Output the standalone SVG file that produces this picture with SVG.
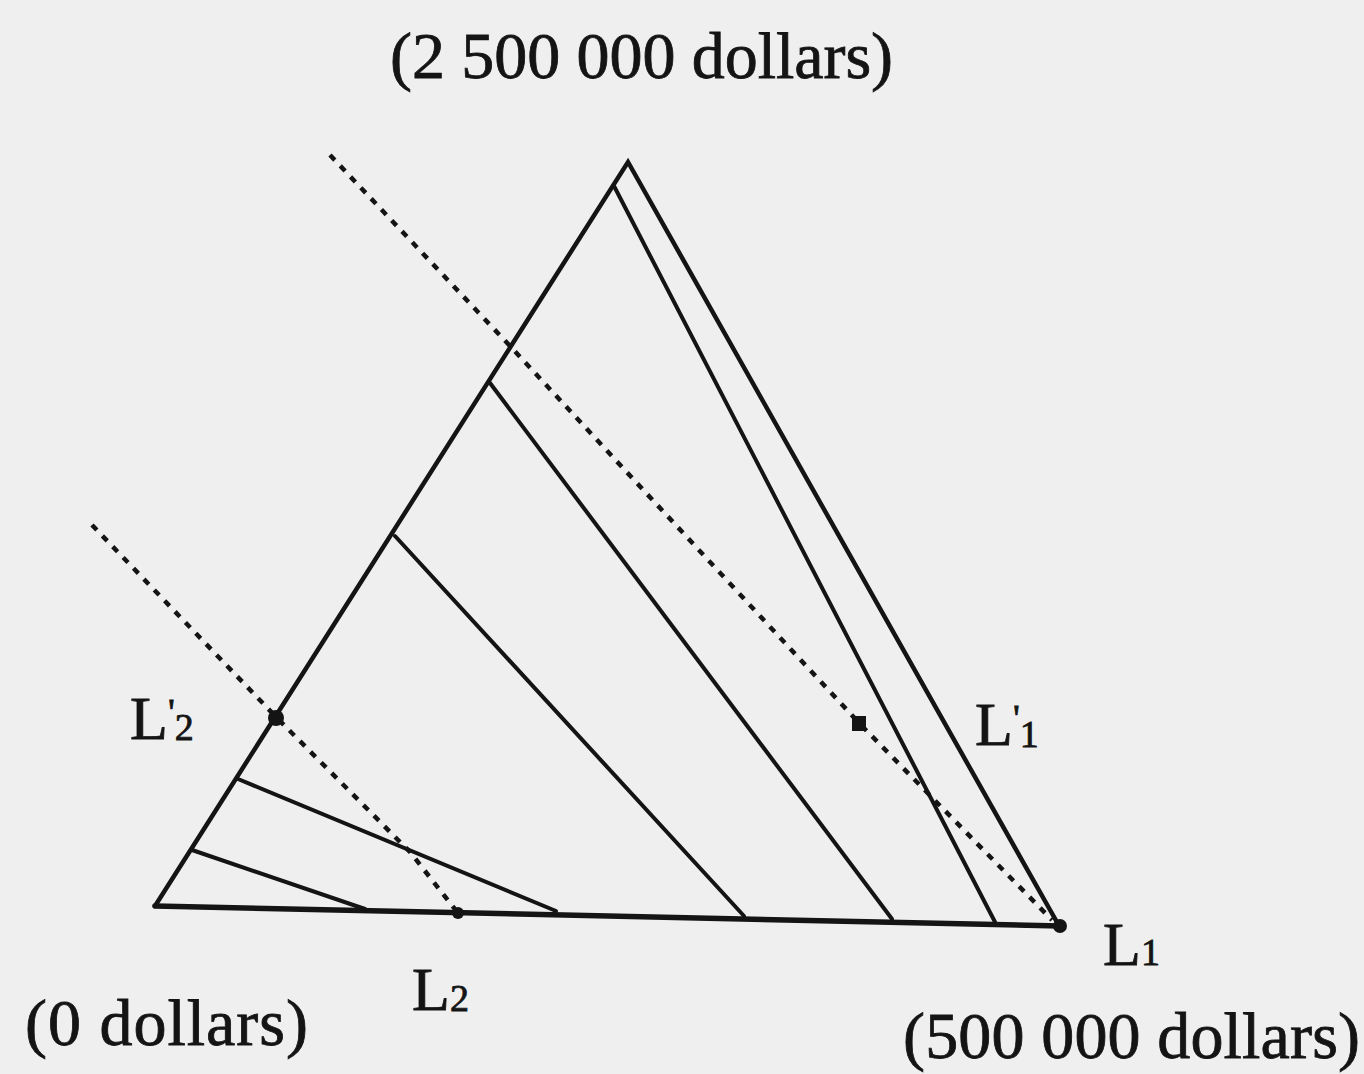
<svg xmlns="http://www.w3.org/2000/svg" width="1364" height="1074" viewBox="0 0 1364 1074">
<style>
.edge{fill:none;stroke:#141414;stroke-width:4.5;stroke-linejoin:miter;stroke-linecap:round}
.ind{fill:none;stroke:#141414;stroke-width:4;stroke-linecap:round}
.dot{fill:none;stroke:#141414;stroke-width:4.5;stroke-dasharray:7 8}
.pt{fill:#141414}
.lbl{font-family:"Liberation Serif","Times New Roman",serif;fill:#141414;stroke:#141414;stroke-width:0.8}
.big{font-size:66px}
.L{font-size:62px}
.sub{font-size:38px}
</style>
<rect width="1364" height="1074" fill="#efefef"/>
<g id="triangle">
<path class="edge" d="M155,906 L628,162 L1058,924"/>
<path class="edge" style="stroke-width:5.5" d="M155,906 L1060,926"/>
</g>
<g id="connectors">
<line class="ind" x1="192" y1="850" x2="365" y2="909"/>
<line class="ind" x1="238" y1="779" x2="556" y2="911"/>
<line class="ind" x1="395" y1="536" x2="744" y2="916"/>
<line class="ind" x1="490" y1="383" x2="892" y2="919"/>
<line class="ind" x1="614" y1="186" x2="995" y2="922"/>
<polyline class="dot" points="330,155 510,346 860,724 1052,920"/>
<polyline class="dot" points="92,525 277,718 410,852 458,913"/>
</g>
<g id="L1"><circle class="pt" cx="1060" cy="926" r="7"/></g>
<g id="L2"><circle class="pt" cx="458" cy="913" r="6"/></g>
<g id="L1p"><rect class="pt" x="852" y="716" width="14" height="15"/></g>
<g id="L2p"><circle class="pt" cx="276" cy="718" r="8"/></g>
<g id="labels">
<text class="lbl big" x="390" y="78" textLength="503">(2 500 000 dollars)</text>
<text class="lbl big" x="25" y="1045" textLength="283">(0 dollars)</text>
<text class="lbl big" x="903" y="1058" textLength="457">(500 000 dollars)</text>
<text class="lbl" x="130" y="739"><tspan class="L">L</tspan><tspan class="sub" dy="-14">'</tspan><tspan class="sub" dy="15">2</tspan></text>
<text class="lbl" x="975" y="745"><tspan class="L">L</tspan><tspan class="sub" dy="-14">'</tspan><tspan class="sub" dy="16">1</tspan></text>
<text class="lbl" x="412" y="1010"><tspan class="L">L</tspan><tspan class="sub" dy="1">2</tspan></text>
<text class="lbl" x="1103" y="965"><tspan class="L">L</tspan><tspan class="sub" dy="0">1</tspan></text>
</g>
</svg>
